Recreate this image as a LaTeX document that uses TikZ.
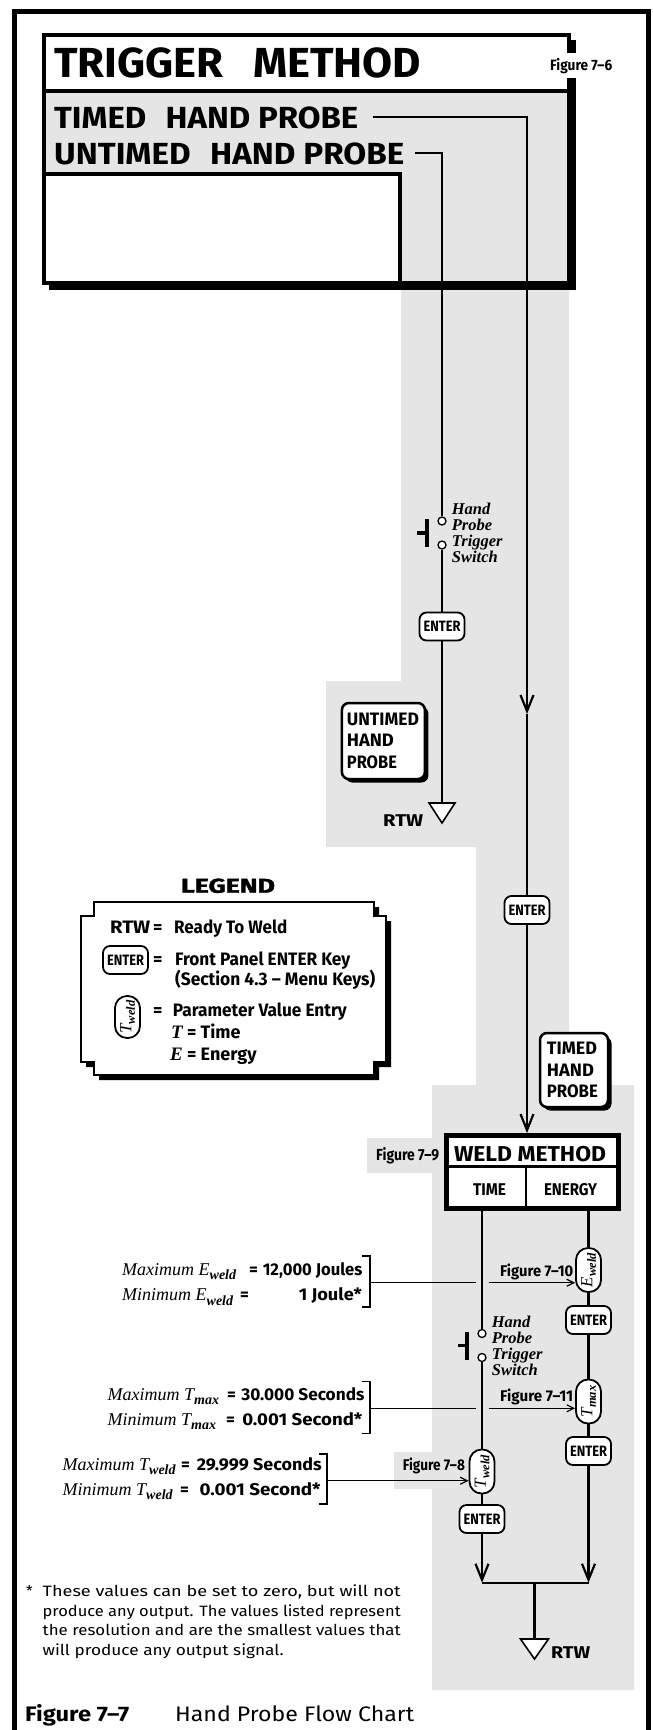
\documentclass[tikz,border=0pt]{standalone}
\usepackage{fontspec}
\setmainfont{Fira Sans}
\newfontfamily\tms{Liberation Serif}
\newfontfamily\heavyfont[FakeBold=1.5]{Fira Sans}
\usetikzlibrary{arrows.meta,shadows}
\definecolor{bg}{gray}{0.9}
\newcommand\fs[1]{\fontsize{#1}{#1}\selectfont}
\newcommand\tx[2]{\resizebox{#1}{\height}{#2}}
\newcommand\sbs[1]{\raisebox{-4.5pt}{\bfseries\fs{14}#1}}
\newcommand\csub[2]{\rotatebox{90}{\tms\itshape\fs{17}#1\raisebox{-3.5pt}{\bfseries\fs{12.5}#2}}}
\newcommand\entertxt{{\bfseries\fs{15}\tx{37pt}{ENTER}}}
\tikzset{
  txt/.style={inner sep=0pt, anchor=base west},
  txtr/.style={inner sep=0pt, anchor=base east},
  txtc/.style={inner sep=0pt, anchor=base},
  flow/.style={line width=2.2pt},
  barb/.style={-{Straight Barb[length=16pt,width=13pt]}},
  sbarb/.style={-{Straight Barb[length=7pt,width=7pt]}},
  thinl/.style={line width=1.2pt},
  brk/.style={line width=1.5pt},
  enterkey/.style={draw, line width=1.8pt, fill=white, rounded corners=7pt, minimum width=45pt, minimum height=28pt, inner sep=0pt},
  capsule/.style={draw, line width=1.8pt, fill=white, rounded corners=12pt, minimum width=25pt, minimum height=44pt, inner sep=0pt},
  contact/.style={circle, draw, fill=white, line width=1.3pt, minimum size=8pt, inner sep=0pt},
  labelbox/.style={draw, line width=2.5pt, fill=white, rounded corners=7pt, inner sep=0pt, drop shadow={shadow xshift=3.5pt, shadow yshift=-3.5pt, fill=black, opacity=1}},
  swtext/.style={txt, font=\tms\bfseries\itshape\fs{16.5}},
  boxtext/.style={txt, font=\bfseries\fs{18}},
  figlbl/.style={txt, font=\bfseries\fs{15.5}},
  valtext/.style={txtr, font=\bfseries\fs{17}},
  eqtext/.style={txt, font=\bfseries\fs{17}},
  ittext/.style={txt, font=\tms\itshape\fs{18}},
  legtext/.style={txt, font=\bfseries\fs{18}},
  tri/.style={line width=1.6pt, fill=white, line join=miter},
}
\begin{document}
\begin{tikzpicture}[x=1pt,y=-1pt]
\useasboundingbox (0,0) rectangle (653,1730);
\fill[white] (0,0) rectangle (653,1730);

% grey areas
\fill[bg] (401,283) -- (569,283) -- (569,1085) -- (634,1085) -- (634,1690) -- (432,1690) -- (432,1085) -- (476,1085) -- (476,847) -- (326,847) -- (326,681) -- (401,681) -- cycle;
\fill[bg] (367,1138) rectangle (446,1173);
\fill[bg] (394,1452) rectangle (433,1489);

% outer frame
\draw[line width=5pt] (14.5,1730) -- (14.5,11) -- (648,11) -- (648,1730);

% trigger method box
\fill[black] (49,40) rectangle (576,289.5);
\fill[bg] (44,35) rectangle (569,283);
\fill[white] (44,35) rectangle (569,91);
\draw[line width=3.5pt, fill=white] (44,174) rectangle (400,283);
\draw[line width=4pt] (44,35) rectangle (569,283);
\draw[line width=3.5pt] (44,91) -- (569,91);
\fill[white] (562,53) rectangle (582,78);
\node[figlbl, font=\bfseries\fs{15}] (f76) at (550,70) {\tx{62pt}{Figure 7–6}};
\node[txt, font=\bfseries\fs{42}] (title) at (54,77) {\tx{367pt}{TRIGGER\hspace{0.45em} METHOD}};
\node[txt, font=\bfseries\fs{30.5}] (timed) at (54,128) {\tx{304pt}{TIMED\hspace{0.35em} HAND PROBE}};
\node[txt, font=\bfseries\fs{30.5}] (untimed) at (54,164) {\tx{350pt}{UNTIMED\hspace{0.35em} HAND PROBE}};

% untimed branch
\coordinate (u0) at (415,153);
\coordinate (uc) at (442,153);
\node[contact] (s1a) at (442,521) {};
\node[contact] (s1b) at (442,545) {};
\draw[flow] (u0) -- (uc) -- (s1a.north);
\draw[line width=4pt] (427,519) -- (427,547);
\draw[line width=3.5pt] (417,533) -- (427,533);
\foreach \t [count=\i] in {Hand,Probe,Trigger,Switch}
  \node[swtext] (swa\i) at (451.7,{514+16*(\i-1)}) {\t};
\node[enterkey] (e1) at (442,626.5) {\entertxt};
\draw[flow] (s1b.south) -- (e1.north);
\coordinate (tri1) at (442,803);
\draw[flow] (e1.south) -- (tri1);
\draw[tri] (429,803) -- (455,803) -- (442,823) -- cycle;
\node[txt, font=\bfseries\fs{17}] (rtw1) at (383,826.5) {\tx{40pt}{RTW}};
\node[labelbox, minimum width=83pt, minimum height=76pt] (ubox) at (383.4,741) {};
\node[boxtext] (ub1) at (346.7,725) {\tx{72pt}{UNTIMED}};
\node[boxtext] (ub2) at (346.7,746.7) {\tx{47pt}{HAND}};
\node[boxtext] (ub3) at (346.7,768) {\tx{50pt}{PROBE}};

% timed branch
\coordinate (t0) at (373,117);
\coordinate (tc) at (527,117);
\coordinate (tmid) at (527,714);
\draw[flow, barb] (t0) -- (tc) -- (tmid);
\node[enterkey] (e2) at (527,910) {\entertxt};
\draw[flow] (tmid) -- (e2.north);
\coordinate (wmtop) at (527,1133);
\draw[flow, barb] (e2.south) -- (wmtop);
\node[labelbox, minimum width=68pt, minimum height=74pt] (tbox) at (574,1070) {};
\node[boxtext] (tb1) at (546.7,1054) {\tx{50pt}{TIMED}};
\node[boxtext] (tb2) at (546.7,1076) {\tx{47pt}{HAND}};
\node[boxtext] (tb3) at (546.7,1097.3) {\tx{51pt}{PROBE}};

% legend
\node[txtc, font=\heavyfont\bfseries\fs{20}] (leg) at (228,892.7) {\tx{94pt}{LEGEND}};
\fill[black] (99,907) -- (379,907) -- (379,921) -- (391,921) -- (391,1067) -- (379,1067) -- (379,1080) -- (99,1080) -- (99,1067) -- (86,1067) -- (86,921) -- (99,921) -- cycle;
\draw[line width=2.2pt, fill=white] (94,902) -- (374,902) -- (374,916) -- (386,916) -- (386,1062) -- (374,1062) -- (374,1075) -- (94,1075) -- (94,1062) -- (81,1062) -- (81,916) -- (94,916) -- cycle;
\node[legtext] (lrtw) at (110,933) {\tx{40pt}{RTW}};
\node[legtext] (leq1) at (153,933) {=};
\node[legtext] (lrtwt) at (174,933) {\tx{113pt}{Ready To Weld}};
\node[enterkey] (lent) at (125.5,960) {\entertxt};
\node[legtext] (leq2) at (153,965) {=};
\node[legtext] (lent1) at (175,965) {\tx{175pt}{Front Panel ENTER Key}};
\node[legtext] (lent2) at (175,985) {\tx{200pt}{(Section 4.3 – Menu Keys)}};
\node[capsule, minimum height=42pt] (lcap) at (127.5,1017) {\csub{T}{weld}};
\node[legtext] (leq3) at (153,1016.7) {=};
\node[legtext] (lpar) at (172.7,1016.7) {\tx{174pt}{Parameter Value Entry}};
\node[legtext] (ltime) at (171,1038.5) {{\tms\itshape\fs{19}T} = Time};
\node[legtext] (lenergy) at (170,1060) {{\tms\itshape\fs{19}E} = Energy};

% weld method box
\draw[line width=5pt, fill=white] (446,1135) rectangle (618.5,1208);
\draw[line width=3pt] (446,1166.5) -- (618.5,1166.5);
\draw[line width=2.5pt] (526,1166.5) -- (526,1208);
\node[txtc, font=\bfseries\fs{21.5}] (wm) at (530,1161.5) {\tx{152pt}{WELD METHOD}};
\node[txtc, font=\bfseries\fs{17}] (wmt) at (489.5,1195) {\tx{33pt}{TIME}};
\node[txtc, font=\bfseries\fs{17}] (wme) at (570.5,1195) {\tx{53pt}{ENERGY}};
\node[figlbl, font=\bfseries\fs{16}] (f79) at (376,1160) {\tx{63pt}{Figure 7–9}};
\coordinate (wmT) at (482,1210.5);
\coordinate (wmE) at (588.5,1210.5);

% energy branch
\node[capsule] (cE) at (588.5,1270) {\csub{E}{weld}};
\node[enterkey] (e3) at (588.5,1320) {\entertxt};
\node[capsule] (cTm) at (588.5,1401.5) {\csub{T}{max}};
\node[enterkey] (e4) at (588.5,1451) {\entertxt};
\coordinate (je) at (588.5,1582.7);
\draw[flow] (wmE) -- (cE.north);
\draw[flow] (cE.south) -- (e3.north);
\draw[flow] (e3.south) -- (cTm.north);
\draw[flow] (cTm.south) -- (e4.north);
\draw[flow, barb] (e4.south) -- (je);

% time branch
\node[contact] (s2a) at (482,1333.5) {};
\node[contact] (s2b) at (482,1357.5) {};
\draw[line width=4pt] (467,1331.5) -- (467,1359.5);
\draw[line width=3.5pt] (458,1345.5) -- (467,1345.5);
\foreach \t [count=\i] in {Hand,Probe,Trigger,Switch}
  \node[swtext] (swb\i) at (491.7,{1327+16*(\i-1)}) {\t};
\node[capsule] (cTw) at (482,1471.5) {\csub{T}{weld}};
\node[enterkey] (e5) at (482,1519) {\entertxt};
\coordinate (jt) at (482,1582.7);
\draw[flow] (wmT) -- (s2a.north);
\draw[flow] (s2b.south) -- (cTw.north);
\draw[flow] (cTw.south) -- (e5.north);
\draw[flow, barb] (e5.south) -- (jt);
\coordinate (jm) at (534.5,1582.7);
\draw[flow] (jt) -- (je);
\coordinate (tri2) at (534.5,1639);
\draw[flow] (jm) -- (tri2);
\draw[tri] (520.5,1639) -- (548.5,1639) -- (534.5,1659) -- cycle;
\node[txt, font=\bfseries\fs{17}] (rtw2) at (551,1658) {\tx{39pt}{RTW}};

% figure labels
\node[figlbl] (f710) at (500,1276) {\tx{73pt}{Figure 7–10}};
\node[figlbl] (f711) at (500,1401.5) {\tx{73pt}{Figure 7–11}};
\node[figlbl] (f78) at (402.7,1470.7) {\tx{62pt}{Figure 7–8}};

% E_weld limits
\draw[brk] (362,1256) -- (370,1256) -- (370,1307) -- (362,1307);
\coordinate (bE) at (370,1282.7);
\coordinate (gEa) at (475.5,1282.7);
\coordinate (gEb) at (488.5,1282.7);
\draw[thinl] (bE) -- (gEa);
\draw[thinl, sbarb] (gEb) -- (cE.west |- bE);
\node[ittext] (mxE) at (122,1275) {Maximum E\sbs{weld}};
\node[eqtext] (mxEq) at (249,1275) {=};
\node[valtext] (mxEv) at (362.5,1275) {\tx{99.5pt}{12,000 Joules}};
\node[ittext] (mnE) at (122,1300.7) {Minimum E\sbs{weld}};
\node[eqtext] (mnEq) at (240,1300.7) {=};
\node[valtext] (mnEv) at (362,1300.7) {\tx{63pt}{1 Joule*}};

% T_max limits
\draw[brk] (362,1381.7) -- (370,1381.7) -- (370,1433.3) -- (362,1433.3);
\coordinate (bT) at (370,1408.3);
\coordinate (gTa) at (475.5,1408.3);
\coordinate (gTb) at (488.5,1408.3);
\draw[thinl] (bT) -- (gTa);
\draw[thinl, sbarb] (gTb) -- (cTm.west |- bT);
\node[ittext] (mxT) at (107.5,1400) {Maximum T\sbs{max}};
\node[eqtext] (mxTq) at (227,1400) {=};
\node[valtext] (mxTv) at (364.6,1400) {\tx{123pt}{30.000 Seconds}};
\node[ittext] (mnT) at (107.5,1425) {Minimum T\sbs{max}};
\node[eqtext] (mnTq) at (226,1425) {=};
\node[valtext] (mnTv) at (362.5,1425) {\tx{120pt}{0.001 Second*}};

% T_weld limits
\draw[brk] (318.75,1454) -- (327,1454) -- (327,1504) -- (318.75,1504);
\coordinate (bW) at (327,1480.7);
\draw[thinl, sbarb] (bW) -- (cTw.west |- bW);
\node[ittext] (mxW) at (62.5,1470) {Maximum T\sbs{weld}};
\node[eqtext] (mxWq) at (181,1470) {=};
\node[valtext] (mxWv) at (322,1470) {\tx{125pt}{29.999 Seconds}};
\node[ittext] (mnW) at (62.5,1495) {Minimum T\sbs{weld}};
\node[eqtext] (mnWq) at (180,1495) {=};
\node[valtext] (mnWv) at (320.8,1495) {\tx{121pt}{0.001 Second*}};

% footnote
\node[txt, font=\fs{15}] (ast) at (26,1596.5) {*};
\node[txt, font=\fs{15}] (fn1) at (42.5,1596.5) {\tx{358pt}{These values can be set to zero, but will not}};
\node[txt, font=\fs{15}] (fn2) at (42.5,1616) {\tx{358pt}{produce any output. The values listed represent}};
\node[txt, font=\fs{15}] (fn3) at (42.5,1635.5) {\tx{358pt}{the resolution and are the smallest values that}};
\node[txt, font=\fs{15}] (fn4) at (42.5,1655) {\tx{241pt}{will produce any output signal.}};

% caption
\node[txt, font=\bfseries\fs{21}] (cap1) at (25,1721) {\tx{104pt}{Figure 7–7}};
\node[txt, font=\fs{21}] (cap2) at (175,1721) {\tx{239pt}{Hand Probe Flow Chart}};
\end{tikzpicture}
\end{document}
